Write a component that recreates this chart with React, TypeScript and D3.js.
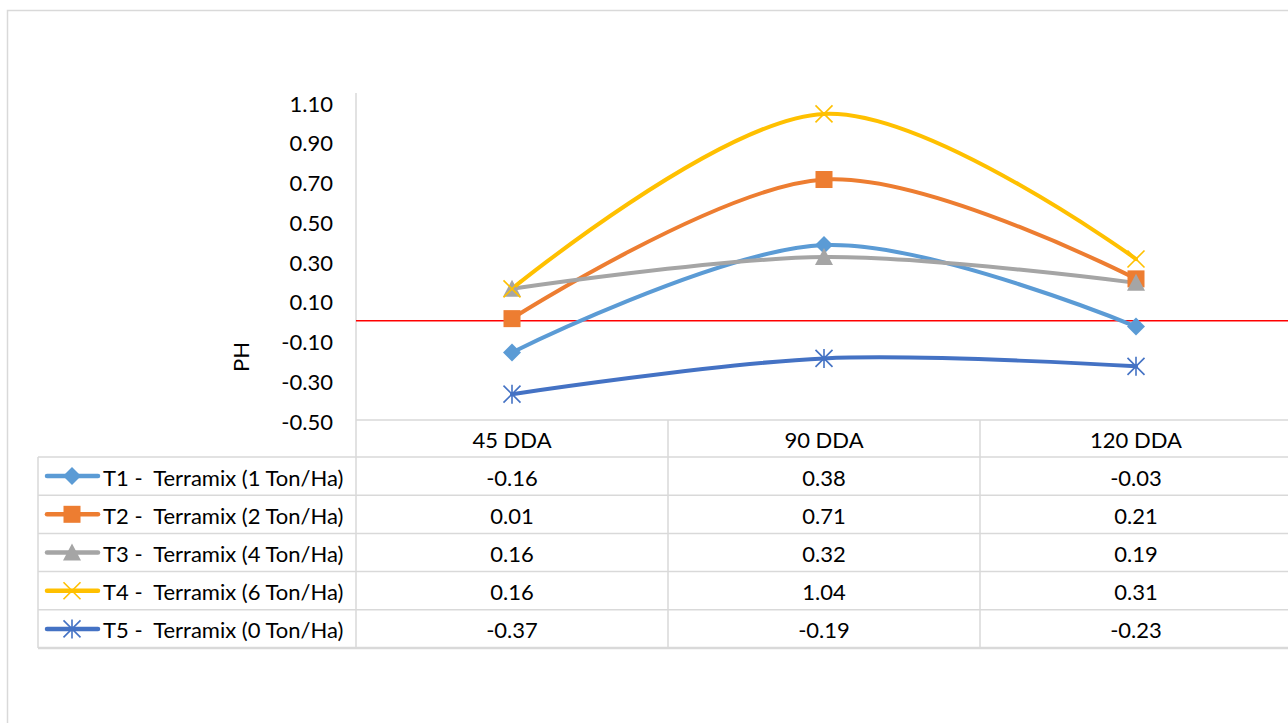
import React from "react";
import * as d3 from "d3";

const categories = ["45 DDA", "90 DDA", "120 DDA"];
const seriesNames = [
  "T1 -  Terramix (1 Ton/Ha)",
  "T2 -  Terramix (2 Ton/Ha)",
  "T3 -  Terramix (4 Ton/Ha)",
  "T4 -  Terramix (6 Ton/Ha)",
  "T5 -  Terramix (0 Ton/Ha)",
];
const t1 = [-0.16, 0.38, -0.03];
const t2 = [0.01, 0.71, 0.21];
const t3 = [0.16, 0.32, 0.19];
const t4 = [0.16, 1.04, 0.31];
const t5 = [-0.37, -0.19, -0.23];
const seriesValues = [t1, t2, t3, t4, t5];
const yTicks = [1.1, 0.9, 0.7, 0.5, 0.3, 0.1, -0.1, -0.3, -0.5];
const axisTitle = "PH";

const colors = ["#5B9BD5", "#ED7D31", "#A5A5A5", "#FFC000", "#4472C4"];
const markers = ["diamond", "square", "triangle", "x", "star"];

const FONT = "Lato, 'Open Sans', sans-serif";
const FS = 22;
const GRID = "#d9d9d9";

function Marker({ kind, x, y, color }: { kind: string; x: number; y: number; color: string }) {
  if (kind === "diamond") {
    const s = 9;
    return <path d={`M${x},${y - s}L${x + s},${y}L${x},${y + s}L${x - s},${y}Z`} fill={color} />;
  }
  if (kind === "square") {
    const s = 8.5;
    return <rect x={x - s} y={y - s} width={2 * s} height={2 * s} fill={color} />;
  }
  if (kind === "triangle") {
    const s = 9;
    return <path d={`M${x},${y - s}L${x + s},${y + s - 1}L${x - s},${y + s - 1}Z`} fill={color} />;
  }
  if (kind === "x") {
    const s = 8.5;
    return (
      <path d={`M${x - s},${y - s}L${x + s},${y + s}M${x - s},${y + s}L${x + s},${y - s}`} stroke={color} strokeWidth={1.6} />
    );
  }
  const s = 8.5;
  return (
    <path
      d={`M${x - s},${y - s}L${x + s},${y + s}M${x - s},${y + s}L${x + s},${y - s}M${x},${y - s - 1}L${x},${y + s + 1}`}
      stroke={color}
      strokeWidth={1.6}
    />
  );
}

export default function App() {
  const W = 1288;
  const H = 723;
  const plotLeft = 356;
  const plotRight = 1292;
  const y = d3.scaleLinear().domain([-0.5, 1.1]).range([420, 102]);
  const x = d3.scaleBand().domain(categories).range([plotLeft, plotRight]);
  const cx = (c: string) => (x(c) as number) + x.bandwidth() / 2;
  const line = d3
    .line<number>()
    .x((_, i) => cx(categories[i]))
    .y((d) => y(d))
    .curve(d3.curveCardinal.tension(0));

  const headerTop = y(-0.5);
  const rowH = 38.2;
  const headerBottom = headerTop + 37;
  const rowTops = seriesNames.map((_, i) => headerBottom + i * rowH);
  const tableBottom = headerBottom + seriesNames.length * rowH;
  const legendLeft = 38;

  return (
    <svg width={W} height={H} style={{ position: "absolute", left: 0, top: 0, background: "#fff" }}>
      <rect x={7.5} y={10.5} width={1300} height={730} fill="#fff" stroke={GRID} strokeWidth={1.5} />
      {/* y axis */}
      <line x1={plotLeft} x2={plotLeft} y1={93} y2={tableBottom} stroke={GRID} strokeWidth={1.5} />
      {yTicks.map((t) => (
        <text key={t} x={333} y={y(t) + 1} textAnchor="end" dominantBaseline="central" fontFamily={FONT} fontSize={FS} fill="#000">
          {t.toFixed(2)}
        </text>
      ))}
      <text
        transform={`translate(240,${357}) rotate(-90)`}
        textAnchor="middle"
        dominantBaseline="central"
        fontFamily={FONT}
        fontSize={FS}
      >
        {axisTitle}
      </text>
      {/* data table grid */}
      <line x1={plotLeft} x2={plotRight} y1={headerTop} y2={headerTop} stroke={GRID} strokeWidth={1.5} />
      {categories.slice(1).map((c) => (
        <line key={c} x1={x(c)} x2={x(c)} y1={headerTop} y2={tableBottom} stroke={GRID} strokeWidth={1.5} />
      ))}
      <line x1={legendLeft} x2={legendLeft} y1={headerBottom} y2={tableBottom} stroke={GRID} strokeWidth={1.5} />
      {[headerBottom, ...rowTops.slice(1), tableBottom].map((yy, i) => (
        <line key={i} x1={legendLeft} x2={plotRight} y1={yy} y2={yy} stroke={GRID} strokeWidth={i === seriesNames.length ? 2.5 : 1.5} />
      ))}
      {categories.map((c) => (
        <text key={c} x={cx(c)} y={(headerTop + headerBottom) / 2 + 1} textAnchor="middle" dominantBaseline="central" fontFamily={FONT} fontSize={FS}>
          {c}
        </text>
      ))}
      {seriesNames.map((name, i) => {
        const my = rowTops[i] + rowH / 2;
        return (
          <g key={name}>
            <line x1={47} x2={98} y1={my} y2={my} stroke={colors[i]} strokeWidth={4.5} strokeLinecap="round" />
            <Marker kind={markers[i]} x={72} y={my} color={colors[i]} />
            <text x={103} y={my + 1} dominantBaseline="central" fontFamily={FONT} fontSize={FS} style={{ whiteSpace: "pre" }}>
              {name}
            </text>
            {seriesValues[i].map((v, j) => (
              <text key={j} x={cx(categories[j])} y={my + 1} textAnchor="middle" dominantBaseline="central" fontFamily={FONT} fontSize={FS}>
                {v.toFixed(2)}
              </text>
            ))}
          </g>
        );
      })}
      {/* zero line */}
      <line x1={plotLeft} x2={plotRight} y1={y(0)} y2={y(0)} stroke="#FF0000" strokeWidth={1.5} />
      {/* series */}
      {seriesValues.map((vals, i) => (
        <path key={i} d={line(vals) as string} fill="none" stroke={colors[i]} strokeWidth={4} strokeLinecap="round" />
      ))}
      {seriesValues.map((vals, i) =>
        vals.map((v, j) => <Marker key={`${i}-${j}`} kind={markers[i]} x={cx(categories[j])} y={y(v)} color={colors[i]} />)
      )}
    </svg>
  );
}
